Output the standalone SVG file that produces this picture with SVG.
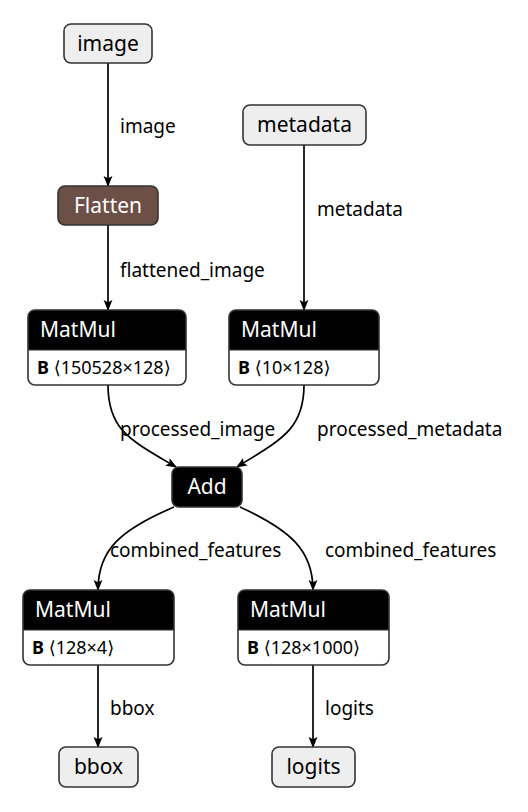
<svg xmlns="http://www.w3.org/2000/svg" width="528" height="812" viewBox="0 0 528 812">
<style>
text{font-family:"Noto Sans","Open Sans","DejaVu Sans",sans-serif;}
.io{fill:#eeeeee;stroke:#333;stroke-width:1.6;}
.nt{font-size:21px;fill:#000;text-anchor:middle;}
.ht{font-size:21px;fill:#fff;}
.bt{font-size:18px;fill:#000;}
.lbl{font-size:19px;fill:#000;}
.e{fill:none;stroke:#000;stroke-width:1.7;marker-end:url(#arr);}
.ol{fill:none;stroke:#333;stroke-width:1.6;}
</style>
<defs>
<marker id="arr" viewBox="0 0 10 10" refX="9" refY="5" markerWidth="11" markerHeight="11" markerUnits="userSpaceOnUse" orient="auto">
<path d="M0,1 L10,5 L0,9 L2,5 Z" fill="#000"/>
</marker>
</defs>
<g id="connectors">
<path class="e" d="M108,63 L108,186"/>
<path class="e" d="M304,145 L304,310"/>
<path class="e" d="M108,225 L108,310"/>
<path class="e" d="M108,385 C108,430 130,440 176,467"/>
<path class="e" d="M304,385 C304,430 280,440 237,467"/>
<path class="e" d="M174,507 C120,530 98,550 98,590"/>
<path class="e" d="M240,507 C290,530 313,550 313,590"/>
<path class="e" d="M98,665 L98,747"/>
<path class="e" d="M313,665 L313,747"/>
<text class="lbl" x="120" y="133">image</text>
<text class="lbl" x="317" y="216">metadata</text>
<text class="lbl" x="120" y="277">flattened_image</text>
<text class="lbl" x="120" y="436">processed_image</text>
<text class="lbl" x="317" y="436">processed_metadata</text>
<text class="lbl" x="110" y="557">combined_features</text>
<text class="lbl" x="325" y="557">combined_features</text>
<text class="lbl" x="110" y="715">bbox</text>
<text class="lbl" x="325" y="715">logits</text>
</g>
<g id="node-image">
<rect class="io" x="64" y="24" width="88" height="39" rx="7"/>
<text class="nt" x="108" y="51">image</text>
</g>
<g id="node-metadata">
<rect class="io" x="243" y="105" width="123" height="40" rx="7"/>
<text class="nt" x="304.5" y="132">metadata</text>
</g>
<g id="node-flatten">
<rect x="58" y="186" width="100" height="39" rx="7" fill="#6c4f47" stroke="#333" stroke-width="1.6"/>
<text class="nt" x="108" y="213" style="fill:#fff">Flatten</text>
</g>
<g id="node-matmul1">
<path d="M28,350 L28,317 Q28,310 35,310 L179,310 Q186,310 186,317 L186,350 Z" fill="#000"/>
<path d="M28,350 L186,350 L186,378 Q186,385 179,385 L35,385 Q28,385 28,378 Z" fill="#fff"/>
<rect class="ol" x="28" y="310" width="158" height="75" rx="7"/>
<line x1="28" y1="350" x2="186" y2="350" stroke="#333" stroke-width="1"/>
<text class="ht" x="40" y="337">MatMul</text>
<text class="bt" x="37" y="374"><tspan font-weight="bold">B</tspan> ⟨150528×128⟩</text>
</g>
<g id="node-matmul2">
<path d="M229,350 L229,317 Q229,310 236,310 L372,310 Q379,310 379,317 L379,350 Z" fill="#000"/>
<path d="M229,350 L379,350 L379,378 Q379,385 372,385 L236,385 Q229,385 229,378 Z" fill="#fff"/>
<rect class="ol" x="229" y="310" width="150" height="75" rx="7"/>
<line x1="229" y1="350" x2="379" y2="350" stroke="#333" stroke-width="1"/>
<text class="ht" x="241" y="337">MatMul</text>
<text class="bt" x="238" y="374"><tspan font-weight="bold">B</tspan> ⟨10×128⟩</text>
</g>
<g id="node-add">
<rect x="172" y="467" width="70" height="40" rx="7" fill="#000" stroke="#333" stroke-width="1.6"/>
<text class="nt" x="207" y="494" style="fill:#fff">Add</text>
</g>
<g id="node-matmul3">
<path d="M23,630 L23,597 Q23,590 30,590 L167,590 Q174,590 174,597 L174,630 Z" fill="#000"/>
<path d="M23,630 L174,630 L174,658 Q174,665 167,665 L30,665 Q23,665 23,658 Z" fill="#fff"/>
<rect class="ol" x="23" y="590" width="151" height="75" rx="7"/>
<line x1="23" y1="630" x2="174" y2="630" stroke="#333" stroke-width="1"/>
<text class="ht" x="35" y="617">MatMul</text>
<text class="bt" x="32" y="654"><tspan font-weight="bold">B</tspan> ⟨128×4⟩</text>
</g>
<g id="node-matmul4">
<path d="M238,630 L238,597 Q238,590 245,590 L382,590 Q389,590 389,597 L389,630 Z" fill="#000"/>
<path d="M238,630 L389,630 L389,658 Q389,665 382,665 L245,665 Q238,665 238,658 Z" fill="#fff"/>
<rect class="ol" x="238" y="590" width="151" height="75" rx="7"/>
<line x1="238" y1="630" x2="389" y2="630" stroke="#333" stroke-width="1"/>
<text class="ht" x="250" y="617">MatMul</text>
<text class="bt" x="247" y="654"><tspan font-weight="bold">B</tspan> ⟨128×1000⟩</text>
</g>
<g id="node-bbox">
<rect class="io" x="59" y="747" width="79" height="40" rx="7"/>
<text class="nt" x="98.5" y="774">bbox</text>
</g>
<g id="node-logits">
<rect class="io" x="272" y="747" width="83" height="40" rx="7"/>
<text class="nt" x="313.5" y="774">logits</text>
</g>
</svg>
